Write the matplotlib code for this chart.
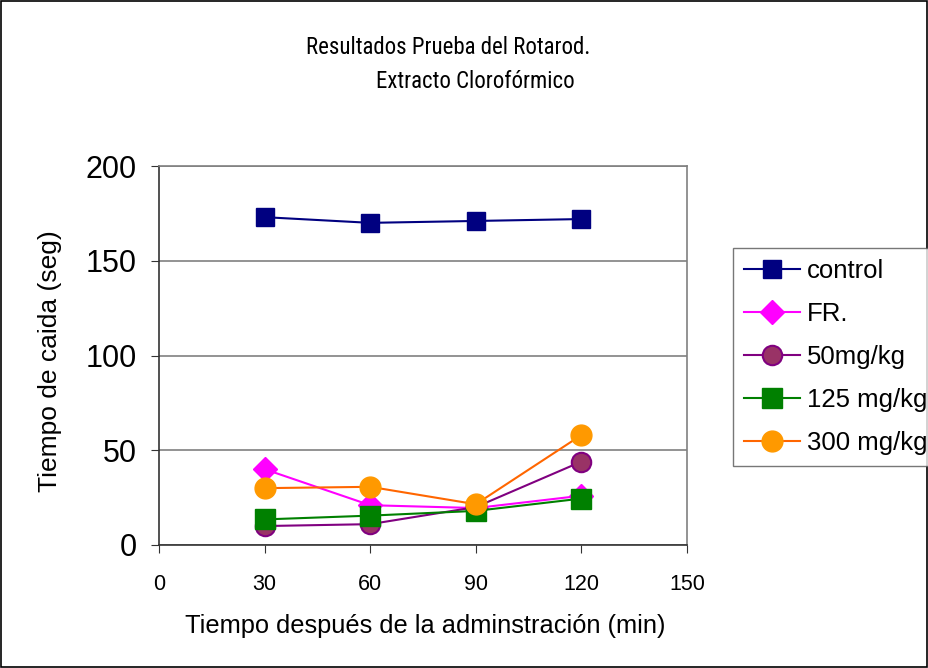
import matplotlib
matplotlib.use("Agg")
import matplotlib.pyplot as plt
from matplotlib.patches import Rectangle
from matplotlib import font_manager

x_min = [30, 60, 90, 120]
control = [173, 170, 171, 172]
fr = [40, 21, 19.5, 26]
mg50 = [10, 11, 20, 44]
mg125 = [13.5, 15.5, 18, 24.5]
mg300 = [30, 30.7, 21.5, 58]
labels = ["control", "FR.", "50mg/kg", "125 mg/kg", "300 mg/kg"]
x_ticks = [0, 30, 60, 90, 120, 150]
y_ticks = [0, 50, 100, 150, 200]

names = sorted({f.name for f in font_manager.fontManager.ttflist})
narrow = None
for pref in ["Liberation Sans Narrow", "Arial Narrow", "Roboto Condensed", "Open Sans Condensed"]:
    if pref in names:
        narrow = pref
        break
if narrow is None:
    cands = [n for n in names if ("Narrow" in n or "Condensed" in n)]
    narrow = cands[0] if cands else "Liberation Sans"
plt.rcParams['font.family'] = ['Liberation Sans', 'DejaVu Sans']

W, H = 929, 668
fig = plt.figure(figsize=(W / 100, H / 100), dpi=100)
fig.patches.append(Rectangle((0.001, 0.001), 0.997, 0.997, transform=fig.transFigure,
                             fill=False, edgecolor='black', linewidth=1.2))
L, R, T, B = 159, 687, 166, 545
ax = fig.add_axes([L / W, 1 - B / H, (R - L) / W, (B - T) / H])

series = [
    (control, dict(color='#000080', marker='s', markersize=12.5, mfc='#000080', mec='#000080')),
    (fr, dict(color='#FF00FF', marker='D', markersize=12, mfc='#FF00FF', mec='#FF00FF')),
    (mg50, dict(color='#800080', marker='o', markersize=14, mfc='#993366', mec='#800080', mew=1.5)),
    (mg125, dict(color='#008000', marker='s', markersize=14, mfc='#008000', mec='#008000')),
    (mg300, dict(color='#FF6600', marker='o', markersize=15, mfc='#FF9900', mec='#FF9900')),
]
for (vals, style), lab in zip(series, labels):
    ax.plot(x_min, vals, linewidth=1.5, label=lab, **style)

ax.set_xlim(0, 150)
ax.set_ylim(0, 200)
ax.set_xticks(x_ticks)
ax.tick_params(axis='x', direction='out', length=6, color='#333333', labelsize=15.5, pad=15)
ax.set_yticks(y_ticks)
ax.tick_params(axis='y', labelsize=22, direction='out', length=6, color='#333333', pad=10)
ax.yaxis.grid(True, color='#808080', linewidth=1.2)
ax.set_axisbelow(True)
for s in ['top', 'right']:
    ax.spines[s].set_color('#808080')
    ax.spines[s].set_linewidth(1.2)
for s in ['left', 'bottom']:
    ax.spines[s].set_color('#333333')
    ax.spines[s].set_linewidth(1.2)

ax.set_xlabel("Tiempo después de la adminstración (min)", fontsize=18.3)
ax.xaxis.set_label_coords((425 - L) / (R - L), (B - 626) / (B - T))
ax.xaxis.label.set_va('center')
ax.set_ylabel("Tiempo de caida (seg)", fontsize=19)
ax.yaxis.set_label_coords((50 - L) / (R - L), (B - 361) / (B - T))
ax.yaxis.label.set_va('center')

tsize = 16.5 if narrow != "Liberation Sans" else 14.5
fig.text(448 / W, 1 - 47 / H, "Resultados Prueba del Rotarod.", ha='center', va='center',
         fontsize=tsize, family=[narrow, 'DejaVu Sans'])
fig.text(475 / W, 1 - 82 / H, "Extracto Clorofórmico", ha='center', va='center',
         fontsize=tsize, family=[narrow, 'DejaVu Sans'])

leg = fig.legend(loc='upper left', bbox_to_anchor=(733 / W, 1 - 248 / H),
                 fontsize=18.5, frameon=True, fancybox=False, edgecolor='#555555',
                 handlelength=2.2, labelspacing=0.74, borderpad=0.42, handletextpad=0.27,
                 borderaxespad=0)
leg.get_frame().set_linewidth(1.0)

fig.savefig("out.png", dpi=100)
